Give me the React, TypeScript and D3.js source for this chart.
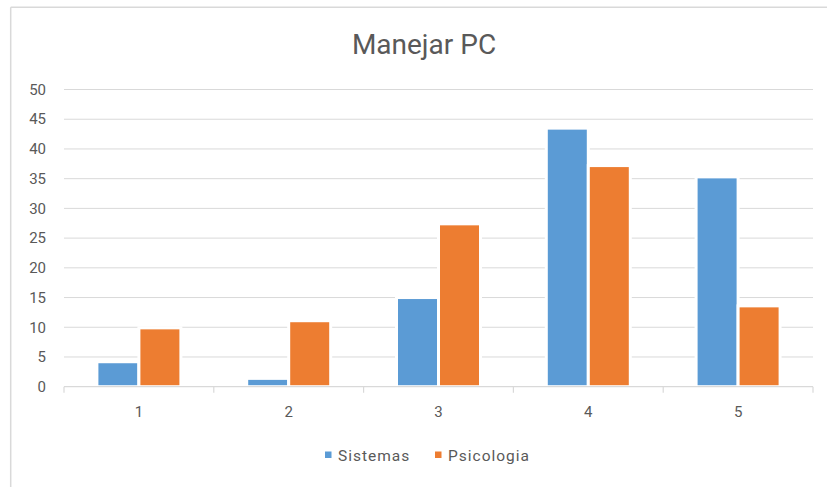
import React from "react";
import * as d3 from "d3";

// Chart data
const categories = ["1", "2", "3", "4", "5"];
const seriesNames = ["Sistemas", "Psicologia"];
const sistemas = [4.2, 1.4, 15.0, 43.5, 35.3];
const psicologia = [9.9, 11.1, 27.4, 37.2, 13.6];
const yTicks = [0, 5, 10, 15, 20, 25, 30, 35, 40, 45, 50];
const colors = ["#5B9BD5", "#ED7D31"];

const W = 827;
const H = 487;
const plot = { left: 64, right: 813, top: 89.5, bottom: 386.7 };
const FONT = "Roboto, 'Noto Sans', sans-serif";
const TEXT = "#595959";
const GRID = "#d9d9d9";
const PAIR_WIDTH = 84; // combined width of the two bars in a category

export default function App() {
  const x = d3
    .scaleBand<string>()
    .domain(categories)
    .range([plot.left, plot.right])
    .padding(0);
  const inner = d3
    .scaleBand<string>()
    .domain(seriesNames)
    .range([0, x.bandwidth()])
    .paddingInner(0)
    .paddingOuter((x.bandwidth() - PAIR_WIDTH) / PAIR_WIDTH);
  const y = d3.scaleLinear().domain([0, 50]).range([plot.bottom, plot.top]);

  const data = [sistemas, psicologia];
  const boundaries = categories.map((c) => x(c)!).concat([plot.right]);

  return (
    <div style={{ position: "fixed", left: 0, top: 0 }}>
      <svg width={W} height={H} style={{ display: "block", background: "#fff" }}>
        <rect x={0} y={0} width={W} height={H} fill="#fff" />
        {/* frame */}
        <line x1={10.7} x2={W} y1={7.3} y2={7.3} stroke={GRID} strokeWidth={1.5} />
        <line x1={10.7} x2={10.7} y1={7.3} y2={H} stroke={GRID} strokeWidth={1.5} />

        {/* title */}
        <text
          x={424}
          y={54.3}
          textAnchor="middle"
          fontFamily={FONT}
          fontWeight={400}
          fontSize={28}
          fill={TEXT}
        >
          Manejar PC
        </text>

        {/* gridlines and y labels */}
        {yTicks.map((t) => (
          <g key={t}>
            {t !== 0 && (
              <line
                x1={plot.left}
                x2={plot.right}
                y1={y(t)}
                y2={y(t)}
                stroke={GRID}
                strokeWidth={1}
              />
            )}
            <text
              x={46}
              y={y(t)}
              dy="0.35em"
              textAnchor="end"
              fontFamily={FONT}
              fontSize={15}
              fill={TEXT}
            >
              {t}
            </text>
          </g>
        ))}

        {/* bars */}
        {categories.map((c, i) => (
          <g key={c} transform={`translate(${x(c)},0)`}>
            {data.map((s, j) => (
              <rect
                key={j}
                x={inner(seriesNames[j])!}
                y={y(s[i])}
                width={inner.bandwidth()}
                height={y(0) - y(s[i])}
                fill={colors[j]}
                stroke="#fff"
                strokeWidth={3}
              />
            ))}
          </g>
        ))}

        {/* x axis */}
        <line
          x1={plot.left}
          x2={plot.right}
          y1={y(0)}
          y2={y(0)}
          stroke={GRID}
          strokeWidth={1.2}
        />
        {boundaries.map((b, i) => (
          <line key={i} x1={b} x2={b} y1={y(0)} y2={y(0) + 6} stroke={GRID} strokeWidth={1.2} />
        ))}
        {categories.map((c) => (
          <text
            key={c}
            x={x(c)! + x.bandwidth() / 2}
            y={417}
            textAnchor="middle"
            fontFamily={FONT}
            fontSize={15}
            fill={TEXT}
          >
            {c}
          </text>
        ))}

        {/* legend */}
        {seriesNames.map((n, j) => {
          const lx = [325, 435][j];
          return (
            <g key={n}>
              <rect x={lx} y={451.5} width={6.5} height={6.5} fill={colors[j]} />
              <text
                x={lx + 13}
                y={460.5}
                fontFamily={FONT}
                fontSize={15.5}
                letterSpacing={1}
                fill={TEXT}
              >
                {n}
              </text>
            </g>
          );
        })}
      </svg>
    </div>
  );
}
